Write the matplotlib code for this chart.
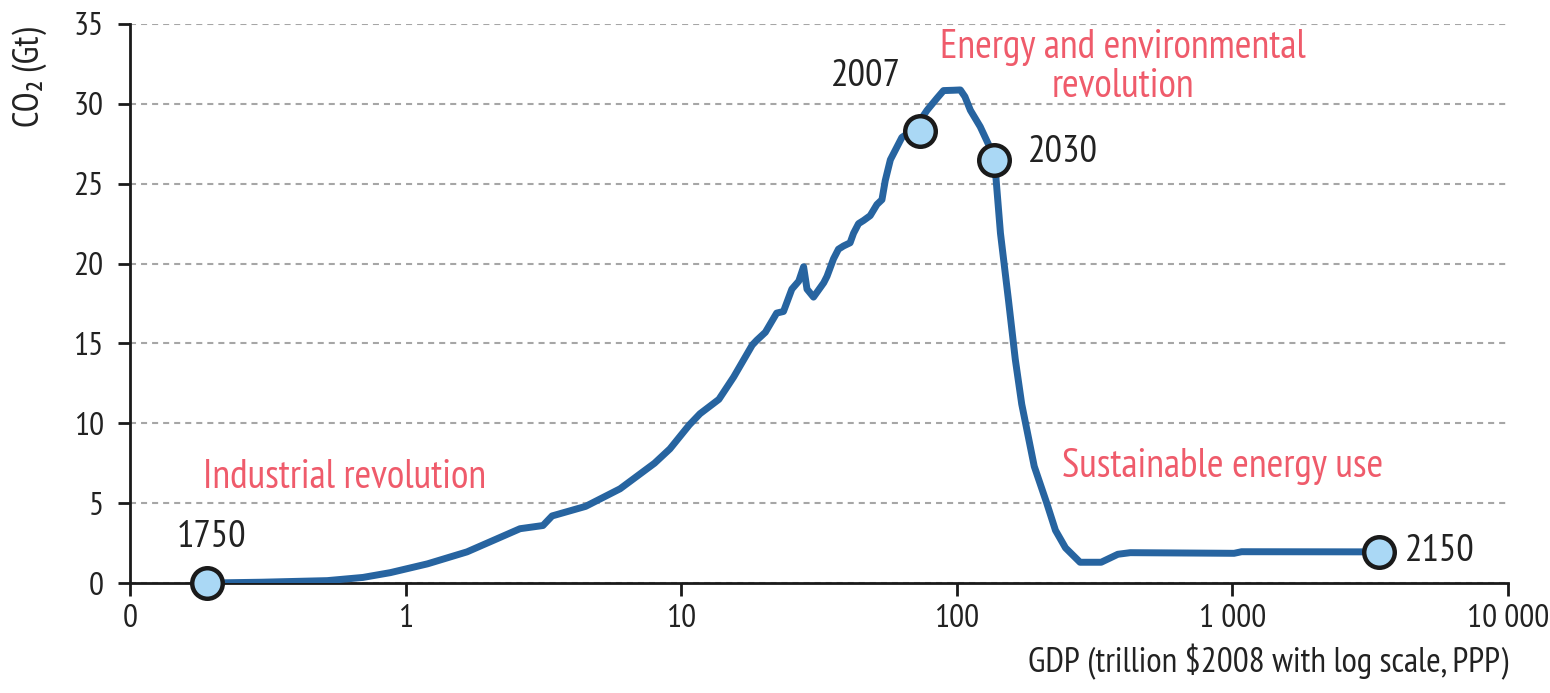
import matplotlib
matplotlib.use("Agg")
import matplotlib.pyplot as plt
import matplotlib.font_manager as fm
from matplotlib.ticker import FixedLocator, FixedFormatter, NullLocator

# narrow humanist face, first one that is installed
installed = {f.name for f in fm.fontManager.ttflist}
narrow = [n for n in ["PT Sans Narrow", "Ubuntu Condensed", "Fira Sans Condensed",
                      "Encode Sans Condensed", "Roboto Condensed",
                      "Liberation Sans Narrow"] if n in installed]
plt.rcParams["font.family"] = narrow[:1] + ["DejaVu Sans"]

# Trajectory of world GDP vs CO2 emissions
gdp = [0.19, 0.3, 0.52, 0.7, 0.88, 1.2, 1.67, 2.1, 2.6, 3.15, 3.4, 4.5, 6.0,
       8.0, 9.1, 10.7, 11.7, 13.7, 15.5, 18.1, 18.8, 20.2, 22.2, 23.5, 25.2,
       26.7, 27.8, 28.6, 30.2, 32.9, 33.8, 35.7, 37.2, 38.8, 41.0, 42.2, 44.0,
       45.9, 48.5, 51.3, 53.5, 55.0, 57.4, 63.2, 70.0, 78.0, 84.7, 89.5, 97.0,
       103.0, 107.0, 112.0, 121.6, 130.0, 137.0, 144.0, 154.0, 163.0, 172.0,
       191.0, 212.0, 228.0, 248.0, 280.0, 334.0, 384.0, 426.0, 1014.0, 1080.0,
       3400.0]
co2 = [0.0, 0.05, 0.15, 0.35, 0.65, 1.2, 1.95, 2.7, 3.4, 3.6, 4.2, 4.8, 5.9,
       7.5, 8.4, 9.9, 10.6, 11.5, 12.9, 14.9, 15.2, 15.7, 16.9, 17.0, 18.4,
       18.9, 19.8, 18.4, 17.9, 18.8, 19.2, 20.3, 20.9, 21.1, 21.3, 21.9, 22.5,
       22.7, 23.0, 23.7, 24.0, 25.2, 26.5, 27.9, 28.4, 29.6, 30.35, 30.83,
       30.85, 30.87, 30.45, 29.6, 28.57, 27.5, 26.5, 21.9, 17.7, 14.0, 11.2,
       7.3, 5.0, 3.3, 2.2, 1.3, 1.3, 1.8, 1.9, 1.86, 1.96, 1.95]

# Milestone years marked on the curve
years = ["1750", "2007", "2030", "2150"]
year_gdp = [0.19, 73.7, 137.0, 3400.0]
year_co2 = [0.0, 28.3, 26.5, 1.95]
year_offsets = [(3, 33), (-39, 39), (24, 5), (19, 0)]
year_ha = ["center", "center", "left", "left"]

# Phase annotations
phases = ["Industrial revolution", "Energy and environmental\nrevolution",
          "Sustainable energy use"]
phase_gdp = [0.6, 400.0, 925.0]
phase_co2 = [6.6, 32.3, 7.3]

xticks = [0.1, 1, 10, 100, 1000, 10000]
xtick_labels = ["0", "1", "10", "100", "1 000", "10 000"]
yticks = [0, 5, 10, 15, 20, 25, 30, 35]

LINE_BLUE = "#2764a0"
MARKER_FILL = "#aad8f5"
PHASE_RED = "#ef5b6b"
TEXT = "#222222"

fig = plt.figure(figsize=(15.5, 6.93), dpi=100)
ax = fig.add_axes([0.0839, 0.1587, 0.8890, 0.8067])

ax.plot(gdp, co2, color=LINE_BLUE, lw=5, solid_joinstyle="round", zorder=3)
ax.plot(year_gdp, year_co2, "o", ms=22, mfc=MARKER_FILL, mec="#1a1a1a",
        mew=3.2, clip_on=False, zorder=4)

for lbl, x, y, off, ha in zip(years, year_gdp, year_co2, year_offsets, year_ha):
    ax.annotate(lbl, (x, y), xytext=off, textcoords="offset points",
                ha=ha, va="center", fontsize=28, color=TEXT)

for lbl, x, y in zip(phases, phase_gdp, phase_co2):
    ax.text(x, y, lbl, ha="center", va="center", ma="center",
            fontsize=29, color=PHASE_RED, linespacing=1.05)

ax.set_xscale("log")
ax.set_xlim(0.1, 10000)
ax.set_ylim(0, 35)
ax.xaxis.set_major_locator(FixedLocator(xticks))
ax.xaxis.set_major_formatter(FixedFormatter(xtick_labels))
ax.xaxis.set_minor_locator(NullLocator())
ax.set_yticks(yticks)

ax.grid(axis="y", color="#a6a6a6", lw=1.5, linestyle=(0, (2.9, 2.4)), zorder=1)
ax.set_axisbelow(True)

for side in ["top", "right"]:
    ax.spines[side].set_visible(False)
for side in ["left", "bottom"]:
    ax.spines[side].set_linewidth(2)
    ax.spines[side].set_color("#1a1a1a")

ax.tick_params(axis="both", length=9, width=2, color="#1a1a1a",
               labelsize=24, labelcolor=TEXT)
ax.tick_params(axis="y", pad=10)
ax.tick_params(axis="x", pad=6)

ax.set_xlabel("GDP (trillion \\$2008 with log scale, PPP)", loc="right",
              fontsize=25.5, color=TEXT, labelpad=7)
ax.set_ylabel("CO\u2082 (Gt)", fontsize=26, color=TEXT)
ax.yaxis.set_label_coords(-0.060, 0.905)

fig.savefig("out.png", dpi=100)
